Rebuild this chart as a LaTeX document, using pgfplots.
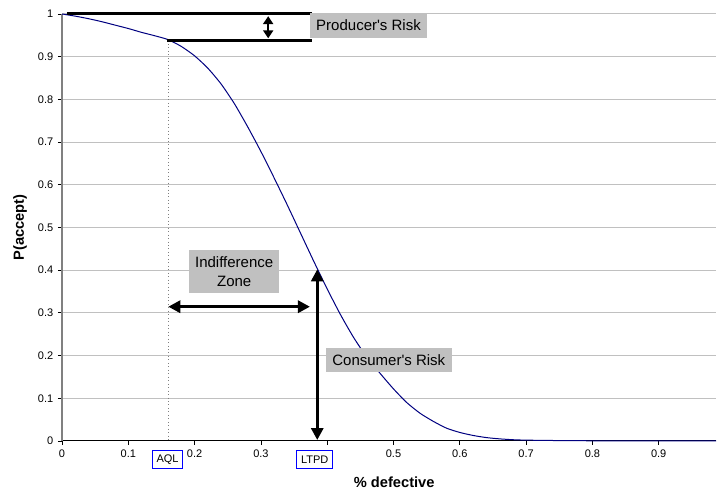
\documentclass[border=0pt]{standalone}
\usepackage{fontspec}
\setmainfont{Liberation Sans}[Ligatures=TeXOff]
\usepackage{pgfplots}
\pgfplotsset{compat=1.18}
\usetikzlibrary{arrows.meta,calc}
\definecolor{gridgray}{RGB}{192,192,192}
\definecolor{boxgray}{RGB}{192,192,192}
\definecolor{navyline}{RGB}{0,0,128}
\definecolor{axisgray}{RGB}{128,128,128}
\begin{document}
\begin{tikzpicture}
\begin{axis}[
  scale only axis, width=490.5pt, height=320.25pt,
  xmin=0, xmax=0.9864, ymin=0, ymax=1,
  axis x line*=bottom, axis y line*=left,
  xtick={0,0.1,0.2,0.3,0.4,0.5,0.6,0.7,0.8,0.9},
  xticklabels={0,0.1,0.2,0.3,,0.5,0.6,0.7,0.8,0.9},
  ytick={0,0.1,0.2,0.3,0.4,0.5,0.6,0.7,0.8,0.9,1},
  tick align=outside, major tick length=3pt,
  ymajorgrids, grid style={gridgray, line width=0.75pt},
  tick label style={font=\fontsize{8.25}{10}\selectfont},
  /pgf/number format/assume math mode=true,
  x axis line style={black, line width=0.75pt},
  y axis line style={axisgray, line width=1.3pt},
  tick style={black, line width=0.6pt},
  xlabel={\% defective}, ylabel={P(accept)},
  label style={font=\fontsize{11}{13}\selectfont\bfseries},
  xlabel style={at={(axis description cs:0.508,-0.0977)}, anchor=center},
  ylabel style={at={(axis description cs:-0.0642,0.5)}, anchor=center},
  clip=false,
]
\addplot[navyline, line width=0.75pt, smooth, tension=0.4] table {
x y
0.00 1.000
0.02 0.995
0.04 0.989
0.06 0.982
0.08 0.974
0.10 0.966
0.12 0.957
0.14 0.949
0.16 0.940
0.18 0.924
0.20 0.902
0.22 0.873
0.24 0.836
0.26 0.790
0.28 0.736
0.30 0.678
0.32 0.616
0.34 0.552
0.36 0.486
0.38 0.420
0.40 0.356
0.42 0.296
0.44 0.242
0.46 0.196
0.48 0.158
0.50 0.122
0.52 0.090
0.54 0.065
0.56 0.046
0.58 0.030
0.60 0.020
0.62 0.013
0.64 0.008
0.66 0.005
0.68 0.003
0.70 0.002
0.75 0.001
0.80 0.0005
0.85 0.0002
0.90 0.0001
0.9864 0.0000
};
\draw[dotted, axisgray, line width=0.6pt] (axis cs:0.16,0.938) -- (axis cs:0.16,0);
\draw[line width=2.25pt] (axis cs:0.0075,1) -- (axis cs:0.3766,1);
\draw[line width=2.25pt] (axis cs:0.158,0.938) -- (axis cs:0.3766,0.938);
\draw[line width=1.5pt, {Triangle[length=6pt,width=7.5pt]}-{Triangle[length=6pt,width=7.5pt]}] (axis cs:0.311,0.995) -- (axis cs:0.311,0.943);
\fill[boxgray] (axis cs:0.374,0.9438) rectangle (axis cs:0.5505,1.0023);
\node[font=\fontsize{11.25}{13}\selectfont] at (axis cs:0.4623,0.973) {Producer's Risk};
\fill[boxgray] (axis cs:0.192,0.3473) rectangle (axis cs:0.3273,0.4473);
\node[align=center, font=\fontsize{11.25}{14.5}\selectfont] at (axis cs:0.2597,0.397) {Indifference\\Zone};
\draw[line width=2.25pt, {Triangle[length=9pt,width=9pt]}-{Triangle[length=9pt,width=9pt]}] (axis cs:0.1603,0.3145) -- (axis cs:0.374,0.3145);
\draw[line width=2.25pt, {Triangle[length=9pt,width=9pt]}-{Triangle[length=9pt,width=9pt]}] (axis cs:0.385,0.0023) -- (axis cs:0.385,0.402);
\fill[boxgray] (axis cs:0.398,0.1623) rectangle (axis cs:0.5878,0.217);
\node[font=\fontsize{11.25}{13}\selectfont] at (axis cs:0.4929,0.1897) {Consumer's Risk};
\coordinate (aqlA) at (axis cs:0.1368,-0.0211);
\coordinate (aqlB) at (axis cs:0.1815,-0.0649);
\coordinate (ltA) at (axis cs:0.354,-0.0211);
\coordinate (ltB) at (axis cs:0.4083,-0.0649);
\coordinate (bbsw) at (rel axis cs:0,0);
\coordinate (bbne) at (rel axis cs:1,1);
\end{axis}
\draw[blue, fill=white, line width=0.75pt] (aqlA) rectangle (aqlB);
\node[font=\fontsize{8.25}{10}\selectfont] at ($(aqlA)!0.5!(aqlB)$) {AQL};
\draw[blue, fill=white, line width=0.75pt] (ltA) rectangle (ltB);
\node[font=\fontsize{8.25}{10}\selectfont] at ($(ltA)!0.5!(ltB)$) {LTPD};
\pgfresetboundingbox
\path ($(bbsw)+(-46.5pt,-36.75pt)$) rectangle ($(bbne)+(0.75pt,10.5pt)$);
\end{tikzpicture}
\end{document}
